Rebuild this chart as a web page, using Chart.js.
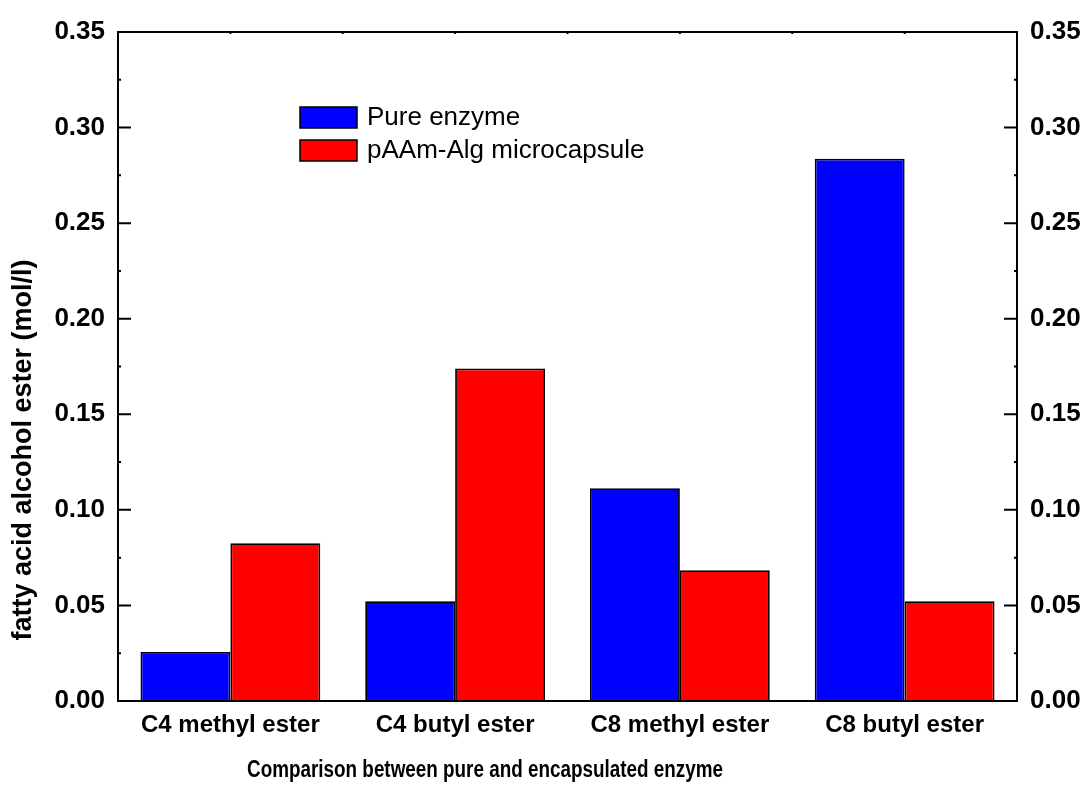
<!DOCTYPE html>
<html>
<head>
<meta charset="utf-8">
<script src="https://cdn.jsdelivr.net/npm/chart.js@4"></script>
<style>
  html, body { margin: 0; padding: 0; background: #fff; }
  #wrap { width: 1083px; height: 789px; }
</style>
</head>
<body>
<div id="wrap"><canvas id="c" width="1083" height="789"></canvas></div>
<script>
// Ester yield per product, pure vs. encapsulated enzyme
const categories = ['C4 methyl ester', 'C4 butyl ester', 'C8 methyl ester', 'C8 butyl ester'];
const pureEnzyme = [0.0256, 0.0522, 0.1113, 0.2837];
const microcapsule = [0.0825, 0.174, 0.0684, 0.0522];
const seriesNames = ['Pure enzyme', 'pAAm-Alg microcapsule'];
const yTicks = [0, 0.05, 0.10, 0.15, 0.20, 0.25, 0.30, 0.35];
const yTitle = 'fatty acid alcohol ester (mol/l)';
const xTitle = 'Comparison between pure and encapsulated enzyme';

const FONT = '"Liberation Sans", Arial, Helvetica, sans-serif';

// Frame, inward ticks, axis titles and legend
const framePlugin = {
  id: 'frame',
  afterDraw(chart) {
    const { ctx, chartArea: a, scales } = chart;
    const ys = scales.y, xs = scales.x;
    ctx.save();
    ctx.strokeStyle = '#000';
    ctx.lineWidth = 2;
    ctx.strokeRect(a.left, a.top, a.right - a.left, a.bottom - a.top);

    // y ticks (major + minor) on both sides, pointing inward
    for (let i = 0; i < yTicks.length; i++) {
      const py = ys.getPixelForValue(yTicks[i]);
      ctx.beginPath();
      ctx.moveTo(a.left, py); ctx.lineTo(a.left + 13, py);
      ctx.moveTo(a.right, py); ctx.lineTo(a.right - 13, py);
      ctx.stroke();
      if (i < yTicks.length - 1) {
        const pm = ys.getPixelForValue((yTicks[i] + yTicks[i + 1]) / 2);
        ctx.beginPath();
        ctx.moveTo(a.left, pm); ctx.lineTo(a.left + 3, pm);
        ctx.moveTo(a.right, pm); ctx.lineTo(a.right - 3, pm);
        ctx.stroke();
      }
    }
    // small ticks on the top edge at category centres and boundaries
    const half = (xs.getPixelForValue(1) - xs.getPixelForValue(0)) / 2;
    for (let i = 0; i < categories.length; i++) {
      const cx = xs.getPixelForValue(i);
      [cx - half, cx].forEach(px => {
        ctx.beginPath();
        ctx.moveTo(px, a.top); ctx.lineTo(px, a.top + 2);
        ctx.stroke();
      });
    }

    // axis titles
    ctx.fillStyle = '#000';
    ctx.font = 'bold 23px ' + FONT;
    ctx.textAlign = 'center';
    ctx.textBaseline = 'middle';
    ctx.save();
    ctx.translate(485, 771);
    ctx.scale(0.82, 1);
    ctx.fillText(xTitle, 0, 0);
    ctx.restore();

    ctx.save();
    ctx.translate(24, 450);
    ctx.rotate(-Math.PI / 2);
    ctx.font = 'bold 27px ' + FONT;
    ctx.fillText(yTitle, 0, 0);
    ctx.restore();

    // legend
    const boxes = [
      { y: 107, ds: chart.data.datasets[0] },
      { y: 140, ds: chart.data.datasets[1] }
    ];
    ctx.font = '26px ' + FONT;
    ctx.textAlign = 'left';
    boxes.forEach(b => {
      ctx.fillStyle = b.ds.backgroundColor;
      ctx.fillRect(300, b.y, 57, 21);
      ctx.lineWidth = 1.5;
      ctx.strokeStyle = '#000';
      ctx.strokeRect(300, b.y, 57, 21);
      ctx.fillStyle = '#000';
      ctx.fillText(b.ds.label, 367, b.y + 11);
    });
    ctx.restore();
  }
};

const fixedWidth = w => function (scale) { scale.width = w; };
const fixedHeight = h => function (scale) { scale.height = h; };

new Chart(document.getElementById('c'), {
  type: 'bar',
  data: {
    labels: categories,
    datasets: [
      { label: seriesNames[0], data: pureEnzyme, backgroundColor: '#0000ff', borderColor: '#000', borderWidth: 1.8, yAxisID: 'y' },
      { label: seriesNames[1], data: microcapsule, backgroundColor: '#ff0000', borderColor: '#000', borderWidth: 1.8, yAxisID: 'y' }
    ]
  },
  options: {
    responsive: false,
    animation: false,
    devicePixelRatio: 1,
    layout: { padding: { top: 32, right: 0, left: 0, bottom: 0 } },
    plugins: { legend: { display: false }, tooltip: { enabled: false } },
    datasets: { bar: { categoryPercentage: 0.8, barPercentage: 1.0 } },
    scales: {
      x: {
        grid: { display: false, drawTicks: false },
        border: { display: false },
        ticks: {
          color: '#000',
          padding: 10,
          maxRotation: 0,
          font: { family: FONT, size: 24, weight: 'bold' }
        },
        afterFit: fixedHeight(88)
      },
      y: {
        position: 'left',
        min: 0, max: 0.35,
        afterBuildTicks(scale) { scale.ticks = yTicks.map(v => ({ value: v })); },
        grid: { display: false, drawTicks: false },
        border: { display: false },
        ticks: {
          color: '#000',
          padding: 13,
          font: { family: FONT, size: 26, weight: 'bold' },
          callback: v => v.toFixed(2)
        },
        afterFit: fixedWidth(118)
      },
      y2: {
        position: 'right',
        min: 0, max: 0.35,
        afterBuildTicks(scale) { scale.ticks = yTicks.map(v => ({ value: v })); },
        grid: { display: false, drawTicks: false },
        border: { display: false },
        ticks: {
          color: '#000',
          padding: 13,
          font: { family: FONT, size: 26, weight: 'bold' },
          callback: v => v.toFixed(2)
        },
        afterFit: fixedWidth(66)
      }
    }
  },
  plugins: [framePlugin]
});
</script>
</body>
</html>
